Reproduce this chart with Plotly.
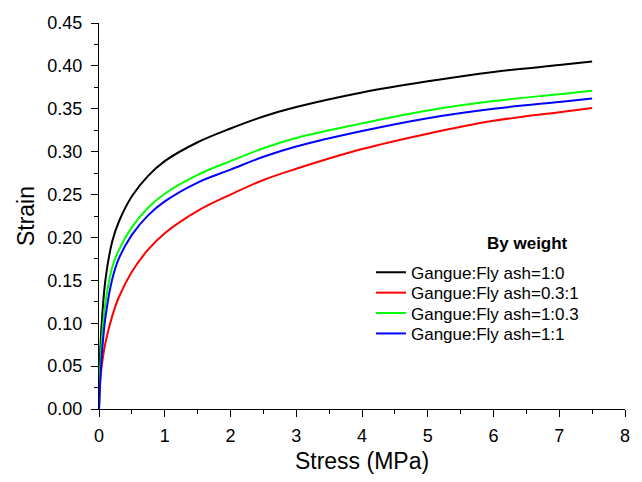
import plotly.graph_objects as go

# Stress levels (MPa) at which strain was sampled
stress = [0, 0.02, 0.05, 0.1, 0.2, 0.3, 0.5, 0.75, 1, 1.5, 2, 2.5, 3, 4, 5, 6, 7, 7.5]

# Strain for each gangue : fly ash mix ratio (by weight)
strain_1_0 = [0, 0.070, 0.110, 0.152, 0.195, 0.218, 0.248, 0.272, 0.289, 0.311, 0.327,
              0.341, 0.352, 0.369, 0.382, 0.393, 0.401, 0.405]
strain_03_1 = [0, 0.035, 0.055, 0.078, 0.108, 0.130, 0.160, 0.186, 0.205, 0.231, 0.250,
               0.267, 0.280, 0.303, 0.321, 0.336, 0.346, 0.351]
strain_1_03 = [0, 0.050, 0.088, 0.125, 0.165, 0.185, 0.212, 0.235, 0.251, 0.273, 0.289,
               0.304, 0.316, 0.333, 0.348, 0.359, 0.367, 0.371]
strain_1_1 = [0, 0.035, 0.070, 0.108, 0.151, 0.175, 0.203, 0.226, 0.242, 0.264, 0.279,
              0.294, 0.306, 0.324, 0.339, 0.350, 0.358, 0.362]

series = [
    ("Gangue:Fly ash=1:0", strain_1_0, "#000000"),
    ("Gangue:Fly ash=0.3:1", strain_03_1, "#ff0000"),
    ("Gangue:Fly ash=1:0.3", strain_1_03, "#00ff00"),
    ("Gangue:Fly ash=1:1", strain_1_1, "#0000ff"),
]

FONT = "Liberation Sans, Arial, Helvetica, sans-serif"

# plot-area geometry in pixels
W, H = 642, 482
L, R, T, B = 99, 15, 23, 71
PW, PH = W - L - R, H - T - B


def px_x(p):
    return (p - L) / PW


def px_y(p):
    return (H - B - p) / PH


fig = go.Figure()
legend_rows = [274, 294.5, 315, 335.5]
legend_names = ["legend", "legend2", "legend3", "legend4"]
for (name, ys, color), lg in zip(series, legend_names):
    fig.add_trace(go.Scatter(
        x=stress, y=ys, name=name, mode="lines", legend=lg, showlegend=True,
        line=dict(color=color, width=2, shape="spline", smoothing=1.0),
    ))

axis_common = dict(
    showline=True, linecolor="#000", linewidth=1.3,
    ticks="outside", ticklen=7, tickwidth=1.3, tickcolor="#000",
    showgrid=False, zeroline=False, mirror=False,
    tickfont=dict(family=FONT, size=18, color="#000"),
)

fig.update_xaxes(
    range=[0, 8], dtick=1, tick0=0, ticklabelstandoff=3,
    minor=dict(ticks="outside", ticklen=4, dtick=0.5, tickcolor="#000", tickwidth=1.3),
    title=dict(text="Stress (MPa)", font=dict(family=FONT, size=23, color="#000"), standoff=8),
    **axis_common,
)
fig.update_yaxes(
    range=[0, 0.45], dtick=0.05, tick0=0, tickformat=".2f", ticklabelstandoff=5,
    minor=dict(ticks="outside", ticklen=4, dtick=0.025, tickcolor="#000", tickwidth=1.3),
    title=dict(text="Strain", font=dict(family=FONT, size=23, color="#000"), standoff=6),
    **axis_common,
)

fig.add_annotation(
    text="<b>By weight</b>", xref="paper", yref="paper",
    x=px_x(529), y=px_y(245), xanchor="center", yanchor="middle",
    showarrow=False, font=dict(family=FONT, size=17, color="#000"),
)

legend_style = dict(
    xanchor="left", yanchor="middle",
    bgcolor="rgba(0,0,0,0)", borderwidth=0,
    font=dict(family=FONT, size=17, color="#000"),
)

fig.update_layout(
    width=W, height=H,
    margin=dict(l=L, r=R, t=T, b=B),
    paper_bgcolor="white", plot_bgcolor="white",
    font=dict(family=FONT, color="#000"),
    showlegend=True,
    **{lg: dict(x=px_x(372), y=px_y(row), **legend_style)
       for lg, row in zip(legend_names, legend_rows)},
)

fig.write_html("out.html")
